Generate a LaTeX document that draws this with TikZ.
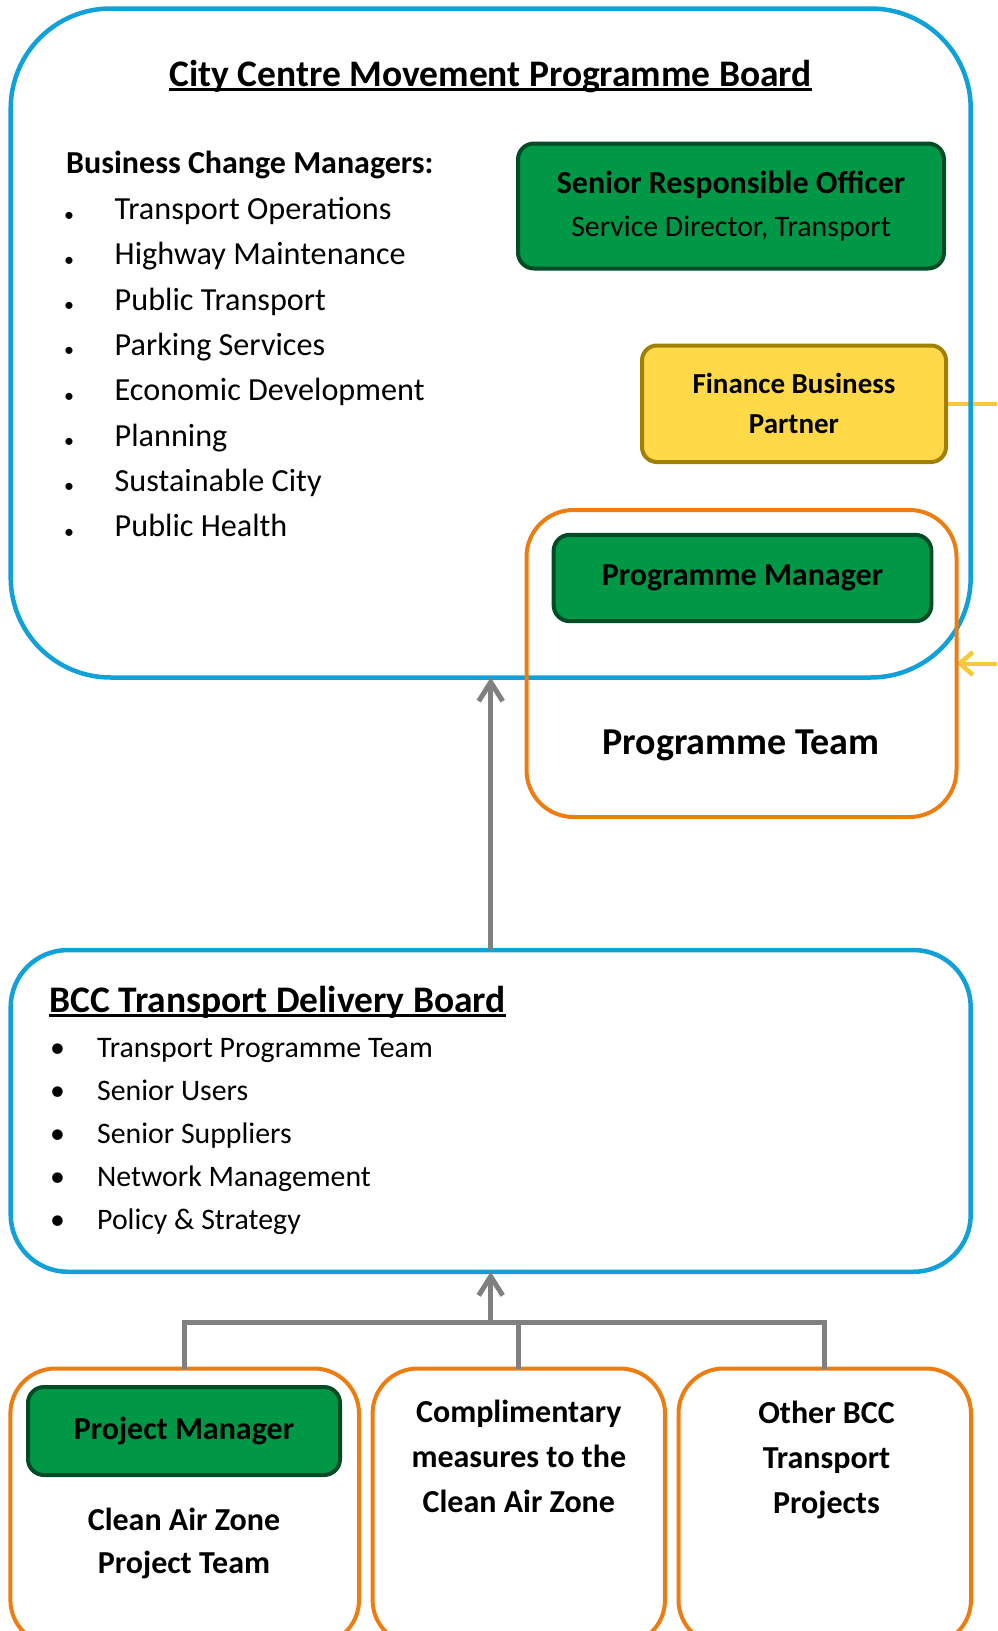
\documentclass[tikz,border=0pt]{standalone}
\usepackage{fontspec}
\setmainfont{Carlito}
\usetikzlibrary{arrows.meta, positioning, backgrounds}

\definecolor{boardblue}{RGB}{16,160,218}
\definecolor{teamorange}{RGB}{238,125,17}
\definecolor{rolegreen}{RGB}{0,152,70}
\definecolor{roleborder}{RGB}{0,76,38}
\definecolor{finfill}{RGB}{255,217,72}
\definecolor{finborder}{RGB}{160,128,0}
\definecolor{finlink}{RGB}{247,199,62}
\definecolor{linkgrey}{RGB}{128,128,128}

\newcommand{\fs}[2]{\fontsize{#1}{#2}\selectfont}
\newcommand{\headrule}[1]{\setbox0=\hbox{#1}\rlap{\rule[-4.5pt]{\wd0}{2.8pt}}\box0}
\newcommand{\mgrbullet}{\makebox[50.5pt][l]{\fs{20}{20}\raisebox{-1.5pt}{\textbullet}}}
\newcommand{\tdbbullet}{\makebox[47pt][l]{\textbullet}}

\begin{document}
\begin{tikzpicture}[
    x=1pt, y=-1pt,
    node distance=12.9pt and 0pt,
    board/.style={rectangle, draw=boardblue, line width=4.5pt, outer sep=0pt, inner sep=0pt},
    team/.style={rectangle, draw=teamorange, line width=4pt, rounded corners=45pt, outer sep=0pt, inner sep=0pt},
    role/.style={rectangle, draw=roleborder, line width=4pt, fill=rolegreen, rounded corners=16pt, outer sep=0pt, align=center, font=\bfseries\fs{32}{43}},
    finbox/.style={rectangle, draw=finborder, line width=4pt, fill=finfill, rounded corners=15pt, outer sep=0pt, align=center, font=\bfseries\fs{29}{40}},
    heading/.style={inner sep=0pt, font=\bfseries\fs{37.5}{44}},
    subhead/.style={inner sep=0pt, font=\bfseries\fs{32}{38}},
    mgritem/.style={inner sep=0pt, text height=24pt, text depth=8pt, font=\fs{32.2}{38}},
    tdbitem/.style={inner sep=0pt, text height=22pt, text depth=7pt, font=\fs{29.8}{35}},
    teamtext/.style={inner sep=0pt, align=center, font=\bfseries\fs{32}{45}},
    report/.style={draw=linkgrey, line width=5pt, -{Straight Barb[length=19pt, width=24pt, line width=5pt]}},
    link/.style={draw=linkgrey, line width=5pt},
    finarrow/.style={draw=finlink, line width=4pt, -{Straight Barb[length=13pt, width=23pt, line width=4.5pt]}}
]
\useasboundingbox (0,0) rectangle (997,1631);
\clip (0,0) rectangle (997,1631);

% Programme board
\node[board, rounded corners=100pt, minimum width=960pt, minimum height=669pt] (progboard) at (490.7,343) {};
\node[heading, anchor=base] (progtitle) at (490.7,86) {\headrule{City Centre Movement Programme Board}};

% Business change managers
\node[subhead, anchor=base west] (mgrs) at (66,173.5) {Business Change Managers:};
\node[mgritem, anchor=base west] (mgr1) at (64,219.5) {\mgrbullet Transport Operations};
\node[mgritem, below right=of mgr1.south west] (mgr2) {\mgrbullet Highway Maintenance};
\node[mgritem, below right=of mgr2.south west] (mgr3) {\mgrbullet Public Transport};
\node[mgritem, below right=of mgr3.south west] (mgr4) {\mgrbullet Parking Services};
\node[mgritem, below right=of mgr4.south west] (mgr5) {\mgrbullet Economic Development};
\node[mgritem, below right=of mgr5.south west] (mgr6) {\mgrbullet Planning};
\node[mgritem, below right=of mgr6.south west] (mgr7) {\mgrbullet Sustainable City};
\node[mgritem, below right=of mgr7.south west] (mgr8) {\mgrbullet Public Health};

% Officers on the board
\node[role, minimum width=426pt, minimum height=125pt] (sro) at (731,206)
    {Senior Responsible Officer\\{\mdseries\fs{29.8}{43}Service Director, Transport}};
\node[finbox, minimum width=304pt, minimum height=116.5pt] (finance) at (794,403.75) {Finance Business\\Partner};

% Programme team
\node[team, rounded corners=47pt, minimum width=430pt, minimum height=307pt] (progteam) at (741.5,663.5) {};
\node[role, minimum width=377.7pt, minimum height=86.3pt] (pm) at (742.5,578) {Programme Manager};
\node[heading, font=\bfseries\fs{38}{44}, anchor=base] (progteamlbl) at (741,754) {Programme Team};

% Delivery board
\node[board, rounded corners=57pt, minimum width=960pt, minimum height=321.7pt] (delivery) at (490.7,1110.9) {};
\node[heading, anchor=base west] (deltitle) at (49,1012) {\headrule{BCC Transport Delivery Board}};
\node[tdbitem, anchor=base west] (tdb1) at (50,1057.7) {\tdbbullet Transport Programme Team};
\node[tdbitem, below right=13.67pt and 0pt of tdb1.south west] (tdb2) {\tdbbullet Senior Users};
\node[tdbitem, below right=13.67pt and 0pt of tdb2.south west] (tdb3) {\tdbbullet Senior Suppliers};
\node[tdbitem, below right=13.67pt and 0pt of tdb3.south west] (tdb4) {\tdbbullet Network Management};
\node[tdbitem, below right=13.67pt and 0pt of tdb4.south west] (tdb5) {\tdbbullet Policy \& Strategy};

% Project teams
\node[team, minimum width=348.6pt, minimum height=276.5pt] (cazteam) at (184.7,1506.75) {};
\node[team, minimum width=292.4pt, minimum height=276.5pt] (cmpteam) at (518.8,1506.75) {};
\node[team, minimum width=292.5pt, minimum height=276.5pt] (othteam) at (824.75,1506.75) {};
\node[role, minimum width=312pt, minimum height=88pt] (cazpm) at (184,1431) {Project Manager};
\node[teamtext, font=\bfseries\fs{32}{43.5}] (cazlbl) at (184,1543.6) {Clean Air Zone\\Project Team};
\node[teamtext] (cmplbl) at (518.8,1456.8) {Complimentary\\measures to the\\Clean Air Zone};
\node[teamtext] (othlbl) at (826.5,1460) {Other BCC\\Transport\\Projects};

% Reporting lines
\draw[report] (delivery.north) -- (progboard.south);
\coordinate (join) at (490.7,1322);
\draw[link] (cazteam.north) |- (join);
\draw[link] (cmpteam.north) |- (join);
\draw[link] (othteam.north) |- (join);
\draw[report] (join) -- (delivery.south);

\begin{scope}[on background layer]
    \clip (0,0) rectangle (997,1631);
    \fill[white] (0,0) rectangle (997,1631);
    \draw[finarrow] (finance.east) -- ++(80,0) |- (progteam.east);
\end{scope}

\end{tikzpicture}
\end{document}
